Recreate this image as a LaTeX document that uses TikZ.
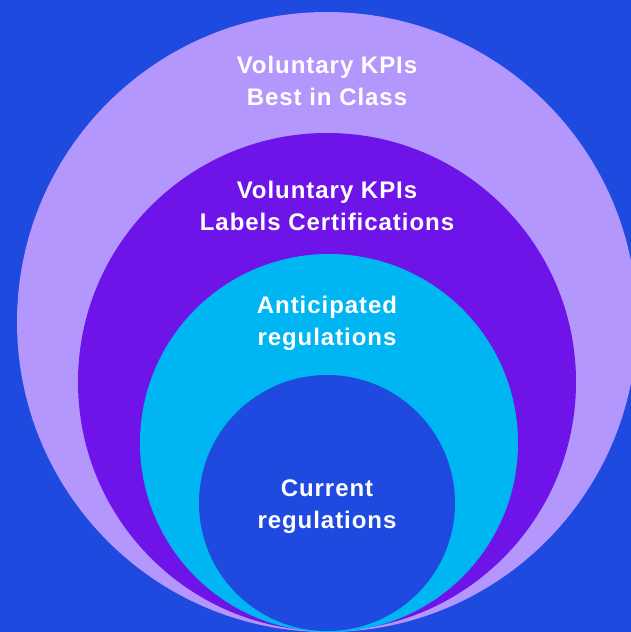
\documentclass[tikz,border=0pt]{standalone}
\usepackage{fontspec}
\setmainfont[LetterSpace=4]{Liberation Sans}
\usepackage{tikz}

\definecolor{bgblue}{HTML}{1F4AE0}
\definecolor{lilac}{HTML}{B397FD}
\definecolor{violet}{HTML}{6E14E8}
\definecolor{skyblue}{HTML}{00B6F2}

\begin{document}
\begin{tikzpicture}[x=1pt,y=-1pt,
  ring/.style={draw=none},
  caption/.style={text=white, align=center, inner sep=0pt,
    font=\fontsize{24}{32}\selectfont\bfseries}]

 \useasboundingbox (0,0) rectangle (631,632);
 \fill [bgblue] (0,0) rectangle (631,632);
 \clip (0,0) rectangle (631,632);

 % circles, all touching at the bottom
 \fill [ring, lilac]   (327,322) circle (310);
 \fill [ring, violet]  (327,382) circle (249);
 \fill [ring, skyblue] (329,443) circle (189);
 \fill [ring, bgblue]  (327,503) circle (128);

 \node [caption] (best_class) at (327,81)
     {Voluntary KPIs\\Best in Class};

 \node [caption] (labels_cert) at (327,206)
     {Voluntary KPIs\\Labels Certifications};

 \node [caption] (anticipated) at (327,323)
     {Anticipated\\regulations};

 \node [caption] (current) at (327,507)
     {Current\\regulations};

\end{tikzpicture}
\end{document}
